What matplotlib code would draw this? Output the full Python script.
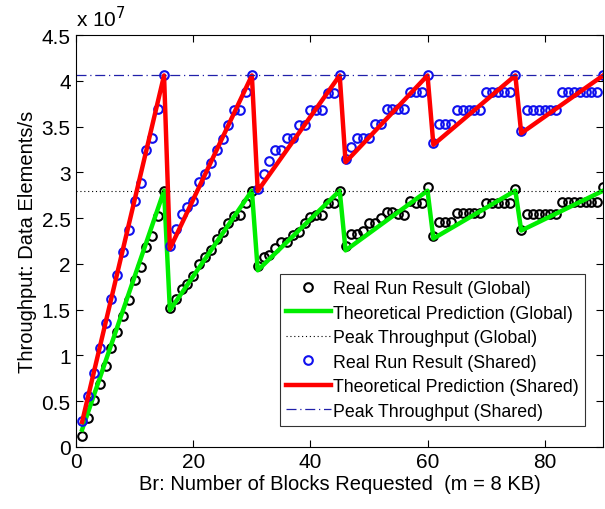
import matplotlib
matplotlib.use("Agg")
import matplotlib.pyplot as plt
from matplotlib.ticker import MultipleLocator

plt.rcParams['font.family'] = ['Liberation Sans', 'DejaVu Sans']

# Block counts requested
br = list(range(1, 91))

# Real run results (units of 1e7 data elements/s)
real_global = [
    0.12, 0.32, 0.51, 0.69, 0.88, 1.08, 1.26, 1.43, 1.61, 1.82, 1.97, 2.18, 2.31, 2.52, 2.80,
    1.52, 1.62, 1.72, 1.78, 1.87, 2.00, 2.07, 2.15, 2.27, 2.35, 2.45, 2.52, 2.53, 2.67, 2.80,
    1.98, 2.07, 2.10, 2.17, 2.24, 2.24, 2.32, 2.35, 2.45, 2.51, 2.53, 2.53, 2.67, 2.67, 2.80,
    2.20, 2.33, 2.33, 2.36, 2.45, 2.45, 2.50, 2.57, 2.57, 2.55, 2.53, 2.69, 2.66, 2.66, 2.84,
    2.30, 2.46, 2.46, 2.46, 2.56, 2.56, 2.56, 2.56, 2.56, 2.66, 2.66, 2.66, 2.66, 2.66, 2.82,
    2.37, 2.55, 2.55, 2.55, 2.55, 2.55, 2.55, 2.68, 2.68, 2.68, 2.68, 2.68, 2.68, 2.68, 2.84,
]
real_shared = [
    0.28, 0.55, 0.81, 1.08, 1.35, 1.62, 1.88, 2.13, 2.37, 2.69, 2.88, 3.24, 3.38, 3.69, 4.07,
    2.20, 2.38, 2.55, 2.62, 2.69, 2.90, 2.98, 3.10, 3.24, 3.37, 3.52, 3.68, 3.68, 3.88, 4.07,
    2.82, 2.98, 3.13, 3.25, 3.25, 3.38, 3.38, 3.52, 3.52, 3.68, 3.68, 3.68, 3.87, 3.87, 4.07,
    3.15, 3.28, 3.38, 3.38, 3.38, 3.53, 3.53, 3.69, 3.69, 3.69, 3.69, 3.88, 3.88, 3.88, 4.07,
    3.32, 3.53, 3.53, 3.53, 3.68, 3.68, 3.68, 3.68, 3.68, 3.88, 3.88, 3.88, 3.88, 3.88, 4.07,
    3.45, 3.68, 3.68, 3.68, 3.68, 3.68, 3.68, 3.88, 3.88, 3.88, 3.88, 3.88, 3.88, 3.88, 4.07,
]

# Theoretical prediction vertices
theory_x = [1, 15, 16, 30, 31, 45, 46, 60, 61, 75, 76, 90]
theory_global = [0.187, 2.80, 1.493, 2.80, 1.929, 2.80, 2.147, 2.80, 2.277, 2.80, 2.364, 2.80]
theory_shared = [0.271, 4.06, 2.165, 4.06, 2.797, 4.06, 3.112, 4.06, 3.302, 4.06, 3.428, 4.06]

peak_global = 2.80
peak_shared = 4.06

fig = plt.figure(figsize=(6.05, 5.10), dpi=100)
ax = fig.add_axes([0.126, 0.122, 0.871, 0.807])

ax.plot(br, real_global, linestyle='none', marker='o', markersize=6.2,
        markerfacecolor='none', markeredgecolor='black', markeredgewidth=1.5,
        label='Real Run Result (Global)')
ax.plot(theory_x, theory_global, color='#00ee00', linewidth=3.2,
        label='Theoretical Prediction (Global)')
ax.axhline(peak_global, color='black', linestyle=(0, (1, 2.5)), linewidth=0.8,
           label='Peak Throughput (Global)')
ax.plot(br, real_shared, linestyle='none', marker='o', markersize=6.2,
        markerfacecolor='none', markeredgecolor='#1010ee', markeredgewidth=1.5,
        label='Real Run Result (Shared)')
ax.plot(theory_x, theory_shared, color='#ff0000', linewidth=3.2,
        label='Theoretical Prediction (Shared)')
ax.axhline(peak_shared, color='#2020aa', linestyle=(0, (8, 3, 1, 3)), linewidth=0.9,
           label='Peak Throughput (Shared)')

ax.set_xlim(0, 90)
ax.set_ylim(0, 4.5)
ax.xaxis.set_major_locator(MultipleLocator(20))
ax.set_yticks([0, 0.5, 1, 1.5, 2, 2.5, 3, 3.5, 4, 4.5])
ax.set_yticklabels(['0', '0.5', '1', '1.5', '2', '2.5', '3', '3.5', '4', '4.5'])
ax.tick_params(direction='in', length=5, width=0.8, top=True, right=True,
               labelsize=15, pad=4)
for s in ax.spines.values():
    s.set_linewidth(0.8)

ax.set_xlabel('Br: Number of Blocks Requested  (m = 8 KB)', fontsize=14.5, labelpad=2)
ax.set_ylabel('Throughput: Data Elements/s', fontsize=14.5, labelpad=3)

ax.text(0.0, 1.012, r'x 10$^{7}$', transform=ax.transAxes, fontsize=15,
        ha='left', va='bottom')

leg = ax.legend(loc='lower right', bbox_to_anchor=(0.966, 0.051), fontsize=12.8,
                frameon=True, fancybox=False, edgecolor='black',
                handlelength=2.5, handletextpad=0.15, borderpad=0.35,
                labelspacing=0.42, borderaxespad=0)
leg.get_frame().set_linewidth(0.8)

fig.savefig('out.png', dpi=100)
